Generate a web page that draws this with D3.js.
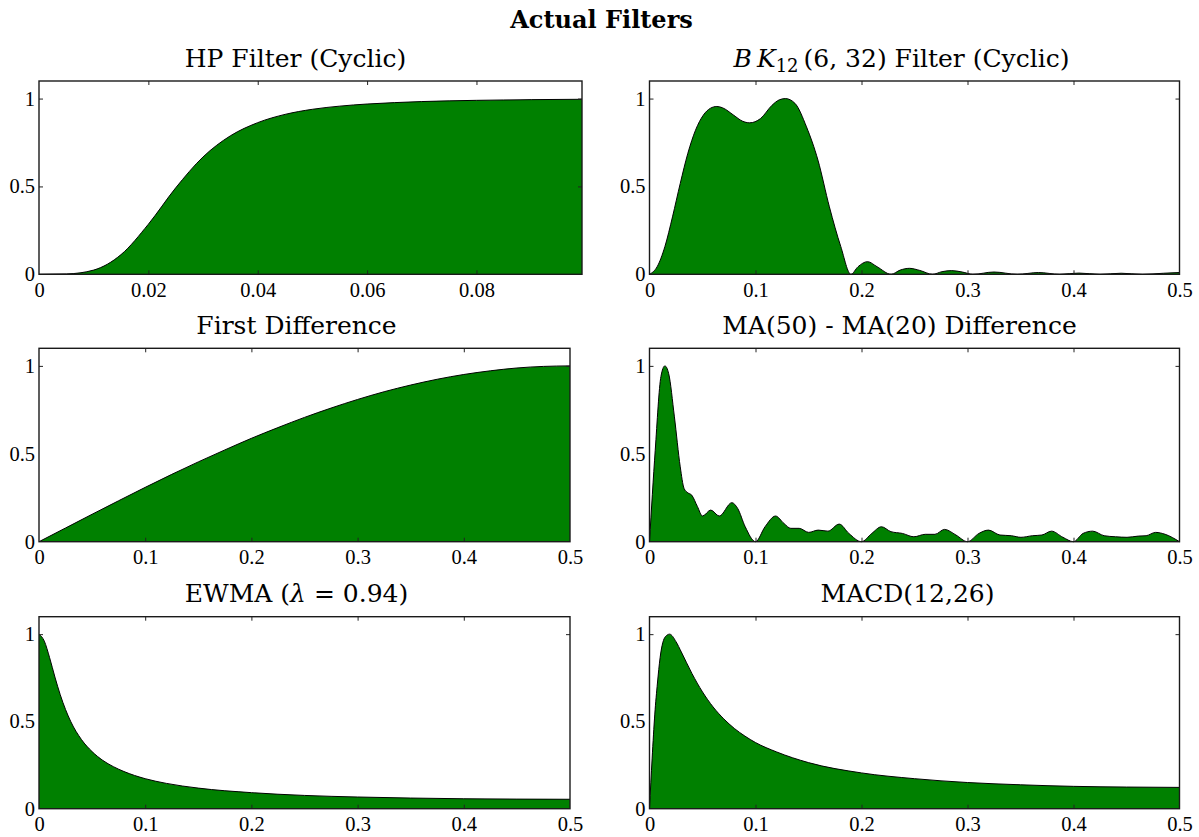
<!DOCTYPE html>
<html>
<head>
<meta charset="utf-8">
<script src="https://cdn.jsdelivr.net/npm/d3@7"></script>
<style>
  html, body { margin: 0; padding: 0; background: #fff; }
  svg { display: block; }
  .tick text { font-family: "Liberation Serif", "Times New Roman", serif; font-size: 20.5px; fill: #000; }
  .tick line { stroke: #222; stroke-width: 1; }
  .ptitle { font-family: "DejaVu Serif", serif; font-size: 25px; fill: #000; }
</style>
</head>
<body>
<div id="chart"></div>
<script>
// values (frequency, normalised gain)
const hpFreq = [0, 0.005, 0.01, 0.015, 0.02, 0.025, 0.03, 0.035, 0.04, 0.045, 0.05, 0.055, 0.06, 0.065, 0.07, 0.075, 0.08, 0.085, 0.09, 0.0993];
const hpGain = [0, 0.002, 0.024, 0.112, 0.285, 0.492, 0.668, 0.788, 0.863, 0.910, 0.939, 0.957, 0.969, 0.977, 0.983, 0.987, 0.990, 0.992, 0.994, 0.996];

const bkFreq = [0, 0.0072, 0.0145, 0.0217, 0.029, 0.0362, 0.0434, 0.0507, 0.0575, 0.0635, 0.0687, 0.0795, 0.0875, 0.0945, 0.1047, 0.1156, 0.1225, 0.1282, 0.1372, 0.1481, 0.1589, 0.1697, 0.1805, 0.19,
  0.1967, 0.2057, 0.2147, 0.228, 0.2365, 0.2453, 0.255, 0.267, 0.276, 0.285, 0.295, 0.305, 0.325, 0.347, 0.367, 0.387, 0.405, 0.425, 0.445, 0.465, 0.485, 0.5];
const bkGain = [0, 0.043, 0.157, 0.327, 0.517, 0.689, 0.82, 0.905, 0.945, 0.955, 0.948, 0.905, 0.872, 0.862, 0.886, 0.962, 0.993, 1.0, 0.973, 0.839, 0.65, 0.384, 0.157, 0,
  0.043, 0.072, 0.043, 0, 0.024, 0.034, 0.022, 0, 0.015, 0.021, 0.013, 0, 0.013, 0, 0.01, 0, 0.007, 0, 0.006, 0, 0.006, 0.01];

const fdFreq = [0, 0.025, 0.05, 0.075, 0.1, 0.125, 0.15, 0.175, 0.2, 0.225, 0.25, 0.275, 0.3, 0.325, 0.35, 0.375, 0.4, 0.425, 0.45, 0.475, 0.5];
const fdGain = [0, 0.078, 0.156, 0.233, 0.309, 0.383, 0.454, 0.522, 0.588, 0.649, 0.707, 0.760, 0.809, 0.853, 0.891, 0.924, 0.951, 0.972, 0.988, 0.997, 1.0];

const maFreq = [0, 0.0054, 0.0108, 0.0145, 0.0181, 0.0235, 0.029, 0.0326, 0.0362, 0.0398, 0.0452, 0.05, 0.0578, 0.0658, 0.0777, 0.0831, 0.0903, 0.1,
  0.109, 0.1189, 0.1268, 0.1333, 0.1412, 0.1502, 0.1592, 0.1683, 0.179, 0.1881, 0.2,
  0.2097, 0.2188, 0.2278, 0.2386, 0.2494, 0.2602, 0.2693, 0.2783, 0.2891, 0.3,
  0.3108, 0.3198, 0.3306, 0.3414, 0.3504, 0.3612, 0.3702, 0.3792, 0.39, 0.4,
  0.409, 0.4181, 0.4289, 0.4397, 0.4505, 0.4613, 0.4685, 0.4775, 0.4865, 0.5];
const maGain = [0, 0.52, 0.94, 1.0, 0.956, 0.71, 0.426, 0.303, 0.278, 0.265, 0.2, 0.146, 0.18, 0.146, 0.222, 0.19, 0.085, 0,
  0.085, 0.146, 0.104, 0.076, 0.076, 0.053, 0.066, 0.06, 0.1, 0.047, 0,
  0.047, 0.085, 0.057, 0.047, 0.028, 0.042, 0.042, 0.07, 0.038, 0,
  0.047, 0.066, 0.038, 0.034, 0.025, 0.034, 0.038, 0.06, 0.025, 0,
  0.047, 0.06, 0.034, 0.028, 0.025, 0.032, 0.034, 0.053, 0.042, 0];

const ewFreq = [0, 0.005, 0.01, 0.015, 0.02, 0.025, 0.03, 0.04, 0.05, 0.06, 0.07, 0.08, 0.1, 0.12, 0.15, 0.2, 0.25, 0.3, 0.35, 0.4, 0.45, 0.5];
const ewGain = [1.0, 0.960, 0.865, 0.754, 0.653, 0.568, 0.498, 0.396, 0.327, 0.277, 0.241, 0.213, 0.172, 0.145, 0.118, 0.092, 0.076, 0.067, 0.061, 0.057, 0.055, 0.054];

const mcFreq = [0, 0.0025, 0.005, 0.0075, 0.01, 0.015, 0.019, 0.025, 0.03, 0.04, 0.05, 0.06, 0.07, 0.08, 0.09, 0.1, 0.12, 0.15, 0.2, 0.25, 0.3, 0.35, 0.4, 0.45, 0.5];
const mcGain = [0, 0.29, 0.542, 0.72, 0.865, 0.986, 1.0, 0.957, 0.898, 0.775, 0.669, 0.583, 0.515, 0.460, 0.416, 0.379, 0.325, 0.264, 0.205, 0.172, 0.150, 0.137, 0.128, 0.124, 0.122];

const xTicksHP = [0, 0.02, 0.04, 0.06, 0.08];
const xTicksHalf = [0, 0.1, 0.2, 0.3, 0.4, 0.5];
const yTicks = [0, 0.5, 1];

// layout
const W = 1199, H = 837;
const ROWS = [
  { t: 81, b: 274.3, title: 66.5 },
  { t: 348.3, b: 541.7, title: 334 },
  { t: 616.7, b: 808.7, title: 602 }
];
const GREEN = "#008000";

const panels = [
  { row: 0, x0: 39, x1: 582, xMax: 0.0993, ticks: xTicksHP, freq: hpFreq, gain: hpGain, tx: 295.5,
    title: [{ t: "HP Filter (Cyclic)" }] },
  { row: 0, x0: 649.5, x1: 1179.5, xMax: 0.5, ticks: xTicksHalf, freq: bkFreq, gain: bkGain, tx: 901.5,
    title: [{ t: "B\u2009K", it: true }, { t: "12", sub: true }, { t: "\u2009(6, 32) Filter (Cyclic)" }] },
  { row: 1, x0: 39, x1: 570, xMax: 0.5, ticks: xTicksHalf, freq: fdFreq, gain: fdGain, tx: 296.5,
    title: [{ t: "First Difference" }] },
  { row: 1, x0: 649.5, x1: 1179.5, xMax: 0.5, ticks: xTicksHalf, freq: maFreq, gain: maGain, tx: 899.5,
    title: [{ t: "MA(50) - MA(20) Difference" }] },
  { row: 2, x0: 39, x1: 570, xMax: 0.5, ticks: xTicksHalf, freq: ewFreq, gain: ewGain, tx: 296.5,
    title: [{ t: "EWMA (" }, { t: "\u03bb", it: true }, { t: " = 0.94)" }] },
  { row: 2, x0: 649.5, x1: 1179.5, xMax: 0.5, ticks: xTicksHalf, freq: mcFreq, gain: mcGain, tx: 907.5,
    title: [{ t: "MACD(12,26)" }] }
];

const svg = d3.select("#chart").append("svg").attr("width", W).attr("height", H);
svg.append("rect").attr("width", W).attr("height", H).attr("fill", "#fff");

svg.append("text").attr("x", 601.5).attr("y", 28.3).attr("text-anchor", "middle")
  .style("font-family", "DejaVu Serif, serif").style("font-weight", "bold").style("font-size", "24px")
  .text("Actual Filters");

const fmt = (d) => String(d);

function drawPanel(p) {
  const r = ROWS[p.row];
  const g = svg.append("g");
  const x = d3.scaleLinear().domain([0, p.xMax]).range([p.x0, p.x1]);
  const y = d3.scaleLinear().domain([0, 1.1]).range([r.b, r.t]);
  const pts = p.freq.map((f, i) => [f, p.gain[i]]);

  g.append("path").datum(pts).attr("fill", GREEN)
    .attr("d", d3.area().x((d) => x(d[0])).y0(y(0)).y1((d) => y(d[1])).curve(d3.curveMonotoneX));
  g.append("path").datum(pts).attr("fill", "none").attr("stroke", "#000").attr("stroke-width", 1)
    .attr("d", d3.line().x((d) => x(d[0])).y((d) => y(d[1])).curve(d3.curveMonotoneX));

  // inward ticks on all four sides, labels only bottom and left
  g.append("g").attr("transform", `translate(0,${r.b})`)
    .call(d3.axisBottom(x).tickValues(p.ticks).tickFormat(fmt).tickSizeInner(-4).tickSizeOuter(0).tickPadding(8))
    .call((a) => a.select(".domain").remove());
  g.append("g").attr("transform", `translate(0,${r.t})`)
    .call(d3.axisTop(x).tickValues(p.ticks).tickFormat("").tickSizeInner(-4).tickSizeOuter(0))
    .call((a) => a.select(".domain").remove());
  g.append("g").attr("transform", `translate(${p.x0},0)`)
    .call(d3.axisLeft(y).tickValues(yTicks).tickFormat(fmt).tickSizeInner(-4).tickSizeOuter(0).tickPadding(4))
    .call((a) => a.select(".domain").remove());
  g.append("g").attr("transform", `translate(${p.x1},0)`)
    .call(d3.axisRight(y).tickValues(yTicks).tickFormat("").tickSizeInner(-4).tickSizeOuter(0))
    .call((a) => a.select(".domain").remove());
  g.selectAll(".tick line").filter((d) => d === 0 || d === p.xMax).remove();

  g.append("rect").attr("x", p.x0).attr("y", r.t).attr("width", p.x1 - p.x0).attr("height", r.b - r.t)
    .attr("fill", "none").attr("stroke", "#1a1a1a").attr("stroke-width", 1.4);

  const t = g.append("text").attr("class", "ptitle").attr("x", p.tx).attr("y", r.title).attr("text-anchor", "middle");
  let shifted = false;
  p.title.forEach((s) => {
    const span = t.append("tspan").text(s.t);
    if (s.it) span.style("font-style", "italic");
    if (s.sub) { span.style("font-size", "18px").attr("dy", 5); shifted = true; }
    else if (shifted) { span.attr("dy", -5); shifted = false; }
  });
}

panels.forEach(drawPanel);
</script>
</body>
</html>
